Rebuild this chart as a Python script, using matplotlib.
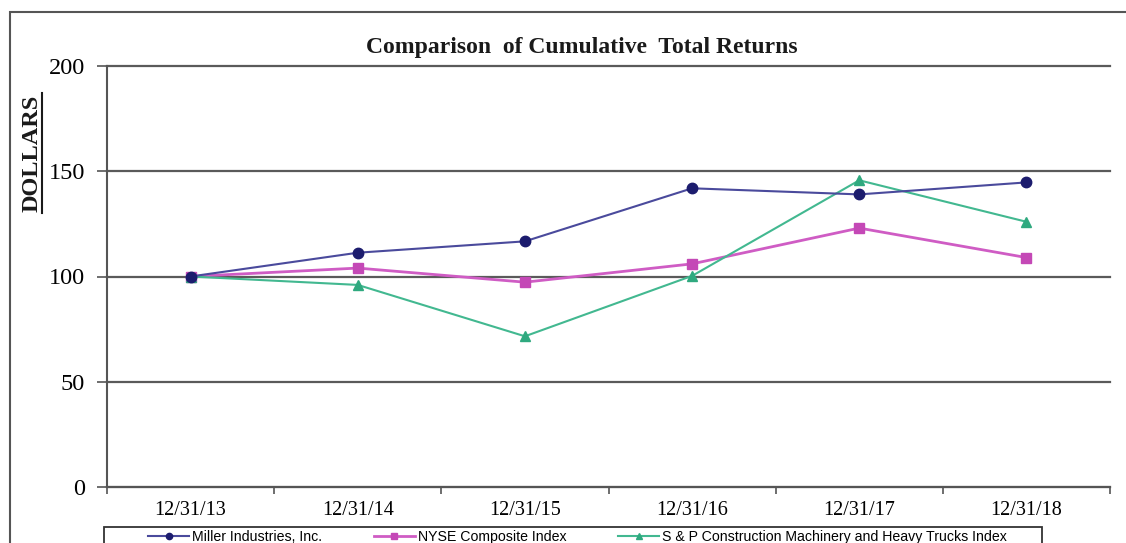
import matplotlib
matplotlib.use("Agg")
import matplotlib.pyplot as plt
from matplotlib.patches import Rectangle

categories = ["12/31/13", "12/31/14", "12/31/15", "12/31/16", "12/31/17", "12/31/18"]
miller = [100, 111.3, 116.7, 141.9, 139.0, 144.7]
nyse = [100, 104.0, 97.3, 106.0, 123.0, 109.0]
sp = [100, 96.0, 71.6, 100.3, 145.7, 126.0]
series_names = ["Miller Industries, Inc.", "NYSE Composite Index",
                "S & P Construction Machinery and Heavy Trucks Index"]
yticks = [0, 50, 100, 150, 200]

W, H = 1126, 543
fig = plt.figure(figsize=(W / 100, H / 100), dpi=100)
fig.patch.set_facecolor("white")

# outer frame (top and left visible, rest cut off)
fig.patches.append(Rectangle((10 / W, -0.1), 1.2, 1 - 12 / H + 0.1,
                             transform=fig.transFigure, fill=False,
                             edgecolor="#555555", linewidth=1.5))

ax = fig.add_axes([107 / W, 1 - 487 / H, (1110 - 107) / W, (487 - 66) / H])
x = list(range(len(categories)))

ax.plot(x, miller, color="#4a4a9c", lw=1.5, marker="o", ms=7.5,
        mfc="#1c1c6e", mec="#1c1c6e", label=series_names[0], zorder=4)
ax.plot(x, nyse, color="#cf5cc4", lw=2.0, marker="s", ms=7,
        mfc="#c448b6", mec="#c448b6", label=series_names[1], zorder=3)
ax.plot(x, sp, color="#42b890", lw=1.5, marker="^", ms=7.5,
        mfc="#2fa97f", mec="#2fa97f", label=series_names[2], zorder=3)

ax.set_xlim(-0.5, len(categories) - 0.5)
ax.set_ylim(0, 200)
ax.set_yticks(yticks)
ax.set_yticklabels([str(v) for v in yticks], family="Liberation Serif", fontsize=17.5)
ax.yaxis.grid(True, color="#5a5a5a", lw=1.6)
for gl in ax.get_ygridlines():
    gl.set_clip_on(False)
ax.set_axisbelow(True)
ax.tick_params(axis="y", length=7, width=1.2, color="#555555", pad=9)

ax.set_xticks([i + 0.5 for i in range(-1, len(categories))], minor=False)
ax.set_xticklabels([])
ax.set_xticks(x, minor=True)
ax.set_xticklabels(categories, minor=True, family="Liberation Serif", fontsize=14.5)
ax.tick_params(axis="x", which="major", length=5, width=1.2, color="#555555", direction="out")
ax.tick_params(axis="x", which="minor", length=0, pad=10)

for s in ["top", "right"]:
    ax.spines[s].set_visible(False)
ax.spines["left"].set_color("#555555")
ax.spines["left"].set_linewidth(1.5)
ax.spines["bottom"].set_color("#555555")
ax.spines["bottom"].set_linewidth(1.5)

fig.text(582 / W, 1 - 47 / H, "Comparison  of Cumulative  Total Returns",
         family="Liberation Serif", fontsize=17, fontweight="bold",
         ha="center", va="center", color="#1a1a1a")
fig.text(32 / W, 1 - 153 / H, "DOLLARS", family="Liberation Serif",
         fontsize=17.5, fontweight="bold", rotation=90, ha="center", va="center",
         color="#1a1a1a")
fig.add_artist(plt.Line2D([42 / W, 42 / W], [1 - 213 / H, 1 - 93 / H],
                          transform=fig.transFigure, color="#1a1a1a", lw=1.5))

# legend frame (cut off at the bottom)
fig.patches.append(Rectangle((104 / W, -0.1), (1042 - 104) / W, 1 - 527 / H + 0.1,
                             transform=fig.transFigure, fill=False,
                             edgecolor="#333333", linewidth=1.3))
leg = fig.legend(loc="center", ncol=3,
                 bbox_to_anchor=(577.5 / W, 1 - 537 / H),
                 prop={"family": "Liberation Sans", "size": 10.2},
                 markerscale=0.6, handlelength=2.9, handletextpad=0.2,
                 columnspacing=3.65, frameon=False, borderpad=0)

fig.savefig("out.png", dpi=100)
